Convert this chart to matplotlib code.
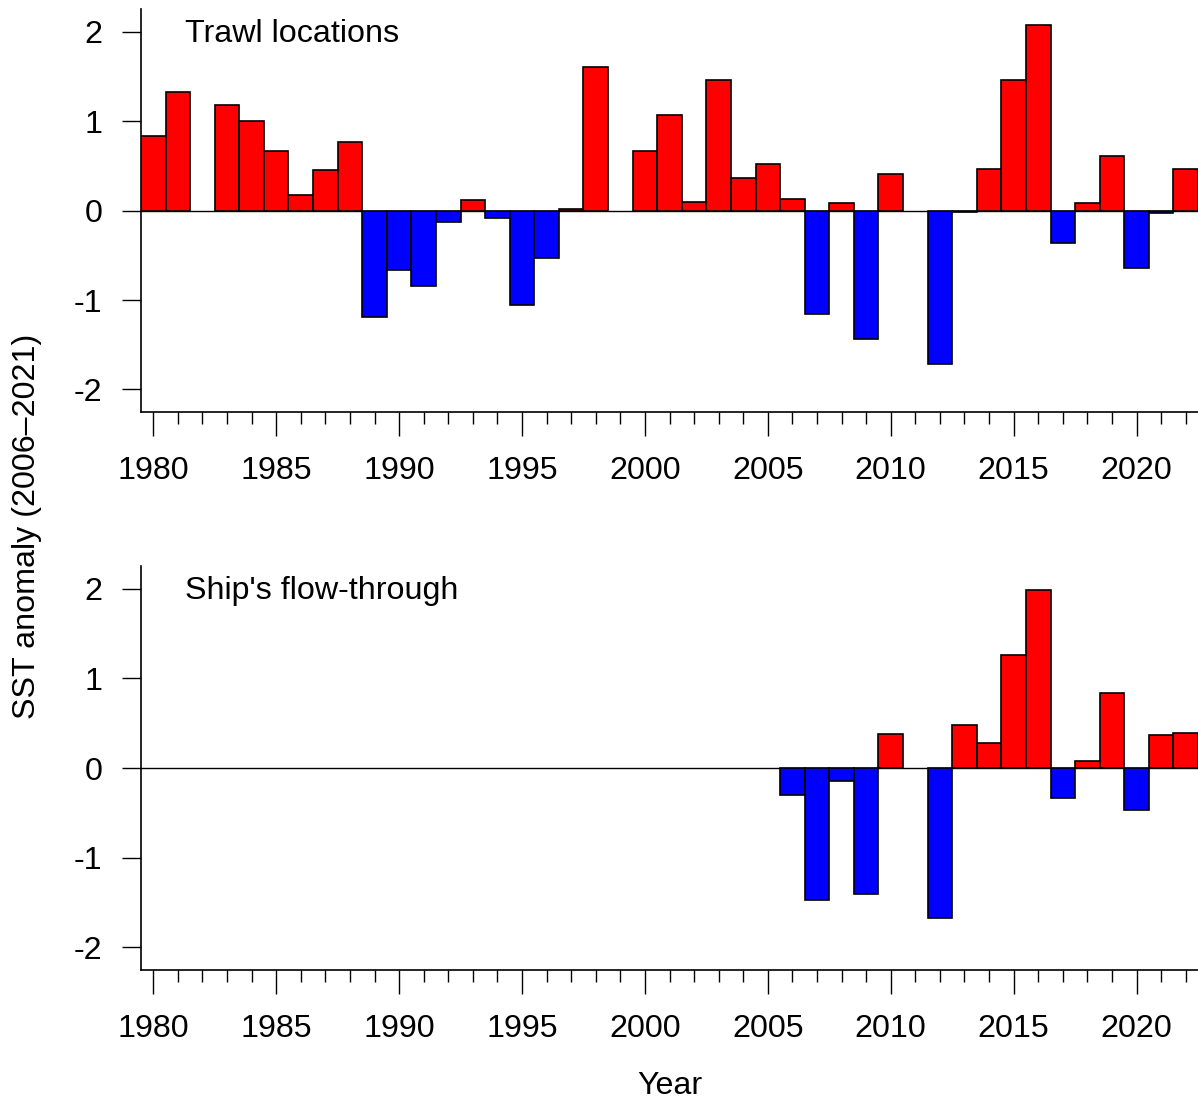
import matplotlib
matplotlib.use("Agg")
import matplotlib.pyplot as plt
from matplotlib import ticker
import numpy as np

plt.rcParams['font.family'] = ['Liberation Sans', 'DejaVu Sans']
plt.rcParams['axes.unicode_minus'] = False

# SST anomalies relative to 2006-2021, trawl locations (no data 1982, 1999, 2011)
trawl_years = [1980, 1981, 1983, 1984, 1985, 1986, 1987, 1988, 1989, 1990,
               1991, 1992, 1993, 1994, 1995, 1996, 1997, 1998, 2000, 2001,
               2002, 2003, 2004, 2005, 2006, 2007, 2008, 2009, 2010, 2012,
               2013, 2014, 2015, 2016, 2017, 2018, 2019, 2020, 2021, 2022]
trawl_sst = [0.83, 1.33, 1.18, 1.00, 0.67, 0.17, 0.45, 0.77, -1.19, -0.66,
             -0.84, -0.13, 0.12, -0.08, -1.06, -0.53, 0.02, 1.61, 0.67, 1.07,
             0.10, 1.46, 0.37, 0.52, 0.13, -1.16, 0.08, -1.44, 0.41, -1.71,
             -0.02, 0.47, 1.46, 2.08, -0.36, 0.09, 0.61, -0.64, -0.03, 0.47]

# ship's flow-through sensor (no data 2011)
ship_years = [2006, 2007, 2008, 2009, 2010, 2012, 2013, 2014, 2015, 2016,
              2017, 2018, 2019, 2020, 2021, 2022]
ship_sst = [-0.30, -1.47, -0.15, -1.41, 0.38, -1.67, 0.48, 0.28, 1.26, 1.99,
            -0.33, 0.08, 0.84, -0.47, 0.37, 0.39]

panel_titles = ["Trawl locations", "Ship's flow-through"]

FS = 23.2
W, H = 1198, 1102


def anomalyPanel(ax, years, sst, title):
    sst = np.array(sst)
    cols = np.where(sst >= 0, '#FF0000', '#0000FF')
    ax.bar(years, sst, width=1.0, color=cols, edgecolor='black', linewidth=1.2, zorder=3)
    ax.axhline(0, color='black', lw=1.0, zorder=2)

    ax.set_xlim(1979.5, 2022.5)
    ax.set_ylim(-2.255, 2.255)
    for s in ['top', 'right']:
        ax.spines[s].set_visible(False)
    for s in ['left', 'bottom']:
        ax.spines[s].set_linewidth(1.2)

    ax.xaxis.set_major_locator(ticker.MultipleLocator(5))
    ax.xaxis.set_minor_locator(ticker.FixedLocator(range(1980, 2023)))
    ax.set_yticks([-2, -1, 0, 1, 2])
    ax.tick_params(axis='x', which='major', direction='out', length=17.3, width=1.0,
                   pad=14.5, labelsize=FS)
    ax.tick_params(axis='x', which='minor', direction='out', length=8.6, width=1.0)
    ax.tick_params(axis='y', direction='out', length=13.7, width=1.0, pad=14, labelsize=FS)

    ax.text(1981.3, 1.89, title, fontsize=FS, ha='left', va='baseline')


fig = plt.figure(figsize=(W / 100, H / 100), dpi=100)
ax1 = fig.add_axes([141 / W, 1 - 412.3 / H, (W - 141) / W, 403.3 / H])
ax2 = fig.add_axes([141 / W, 1 - 970 / H, (W - 141) / W, 404 / H])

anomalyPanel(ax1, trawl_years, trawl_sst, panel_titles[0])
anomalyPanel(ax2, ship_years, ship_sst, panel_titles[1])

fig.text(27 / W, 1 - 526 / H, 'SST anomaly (2006\u20132021)', rotation=90,
         fontsize=FS, ha='center', va='center')
fig.text(669.5 / W, 1 - 1086 / H, 'Year', fontsize=FS, ha='center', va='center')

fig.savefig('out.png', dpi=100)
